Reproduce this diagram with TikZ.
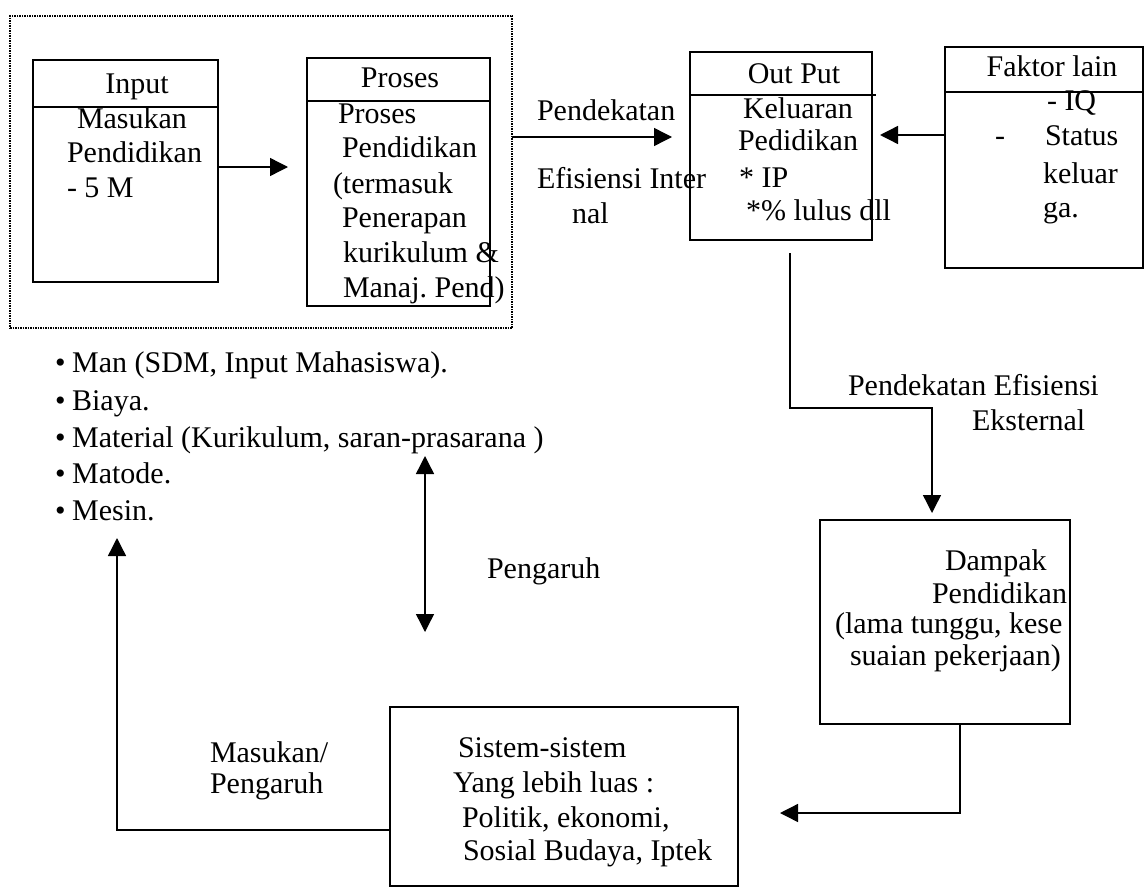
\documentclass[tikz,border=0pt]{standalone}
\usepackage{fontspec}
\setmainfont{Liberation Serif}
\usetikzlibrary{arrows.meta}
\frenchspacing
\begin{document}
\begin{tikzpicture}[x=1pt,y=-1pt,
  every node/.style={font=\fontsize{30}{36}\selectfont, inner sep=0pt, outer sep=0pt},
  box/.style={draw, line width=1.5pt},
  frame/.style={draw, line width=1.2pt, dash pattern=on 1.5pt off 1pt},
  txt/.style={anchor=base west},
  ctxt/.style={anchor=base},
  link/.style={line width=1.4pt, -{Triangle[length=18pt,width=18pt]}},
]
\useasboundingbox (0,0) rectangle (1145,891);

% ---- boxes ----
\node[frame, minimum width=502pt, minimum height=312pt] (sys) at (261,172) {};
\node[box, minimum width=185pt, minimum height=222pt] (input) at (125.5,171) {};
\node[box, minimum width=183pt, minimum height=248pt] (proses) at (398.5,182) {};
\node[box, minimum width=182pt, minimum height=188pt] (output) at (781,146) {};
\node[box, minimum width=198pt, minimum height=221pt] (faktor) at (1044,157.5) {};
\node[box, minimum width=250pt, minimum height=204pt] (dampak) at (945,622) {};
\node[box, minimum width=348pt, minimum height=179pt] (sistem) at (564,796.5) {};

% header rules
\draw[line width=1.5pt] (input.west |- 0,107) -- (input.east |- 0,107);
\draw[line width=1.5pt] (proses.west |- 0,101) -- (proses.east |- 0,101);
\draw[line width=1.5pt] (output.west |- 0,95) -- ([xshift=4pt]output.east |- 0,95);
\draw[line width=1.5pt] (faktor.west |- 0,92) -- (faktor.east |- 0,92);

% ---- Input ----
\node[ctxt] (tIn) at (137,93) {Input};
\node[txt] (in1) at (77,128) {Masukan};
\node[txt] (in2) at (67,162) {Pendidikan};
\node[txt] (in3) at (67,197) {- 5 M};

% ---- Proses ----
\node[ctxt] (tPr) at (400,88) {Proses};
\node[txt] (pr1) at (338,123) {Proses};
\node[txt] (pr2) at (342,157) {Pendidikan};
\node[txt] (pr3) at (333,193) {(termasuk};
\node[txt] (pr4) at (342,227) {Penerapan};
\node[txt] (pr5) at (343,262) {kurikulum \&};
\node[txt] (pr6) at (343,297) {Manaj. Pend)};

% ---- Out Put ----
\node[ctxt] (tOut) at (794,83) {Out Put};
\node[txt] (o1) at (743,118) {Keluaran};
\node[txt] (o2) at (738,150) {Pedidikan};
\node[txt] (o3) at (739,187) {* IP};
\node[txt] (o4) at (746,220) {*\% lulus dll};

% ---- Faktor lain ----
\node[ctxt] (tFk) at (1052,77) {Faktor lain};
\node[txt] (f1) at (1047,110) {- IQ};
\node[txt] (f2a) at (995,145) {-};
\node[txt] (f2) at (1045,145) {Status};
\node[txt] (f3) at (1043,183) {keluar};
\node[txt] (f4) at (1043,217) {ga.};

% ---- labels ----
\node[txt] (li1) at (537,120) {Pendekatan};
\node[txt] (li2) at (537,188) {Efisiensi Inter};
\node[txt] (li3) at (572,223) {nal};
\node[txt] (le1) at (848,395) {Pendekatan Efisiensi};
\node[txt] (le2) at (972,430) {Eksternal};
\node[txt] (lp) at (487,578) {Pengaruh};
\node[txt] (lm1) at (210,762) {Masukan/};
\node[txt] (lm2) at (210,793) {Pengaruh};

% ---- Dampak ----
\node[txt] (d1) at (945,570) {Dampak};
\node[txt] (d2) at (932,603) {Pendidikan};
\node[txt] (d3) at (835,633) {(lama tunggu, kese};
\node[txt] (d4) at (850,665) {suaian pekerjaan)};

% ---- Sistem ----
\node[txt] (s1) at (458,757) {Sistem-sistem};
\node[txt] (s2) at (453,792) {Yang lebih luas :};
\node[txt] (s3) at (462,827) {Politik, ekonomi,};
\node[txt] (s4) at (463,860) {Sosial Budaya, Iptek};

% ---- 5 M list ----
\node[txt] (b1) at (55,372) {•\hspace{0.22em}Man (SDM, Input Mahasiswa).};
\node[txt] (b2) at (55,410) {•\hspace{0.22em}Biaya.};
\node[txt] (b3) at (55,447) {•\hspace{0.22em}Material (Kurikulum, saran-prasarana )};
\node[txt] (b4) at (55,483) {•\hspace{0.22em}Matode.};
\node[txt] (b5) at (55,520) {•\hspace{0.22em}Mesin.};

% ---- free arrow ends ----
\coordinate (mtip) at (117,538);
\coordinate (ptop) at (425,456);
\coordinate (pbot) at (425,632);

% ---- connectors ----
\draw[link, shorten >=19pt] (input.east |- 0,167) -- (proses.west |- 0,167);
\draw[link, shorten >=18pt] (sys.east |- 0,137) -- (output.west |- 0,137);
\draw[link, shorten >=8pt] (faktor.west |- 0,135) -- (output.east |- 0,135);
\draw[link, shorten <=13pt, shorten >=7pt] ([xshift=9pt]output.south) |- (932,408) -- (dampak.north -| 932,0);
\draw[link, shorten >=42pt] ([xshift=15pt]dampak.south) |- (sistem.east |- 0,813);
\draw[link] (sistem.west |- 0,830) -| (mtip);
\draw[line width=1.4pt, {Triangle[length=18pt,width=18pt]}-{Triangle[length=18pt,width=18pt]}] (ptop) -- (pbot);
\end{tikzpicture}
\end{document}
